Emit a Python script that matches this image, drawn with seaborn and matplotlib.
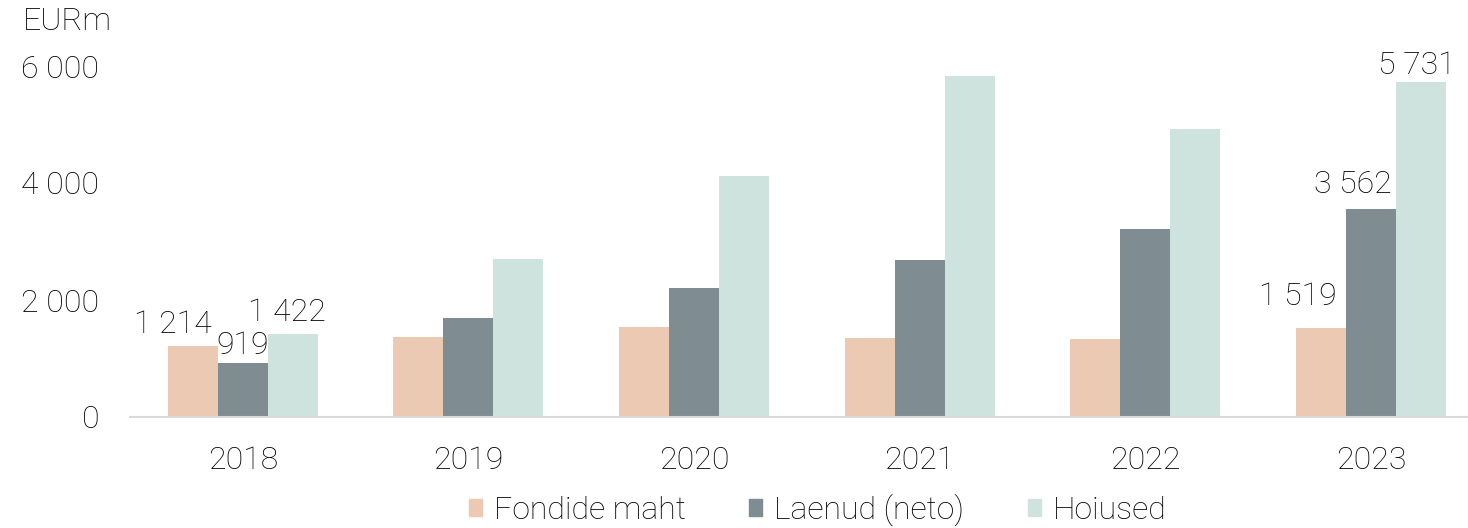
import matplotlib
matplotlib.use("Agg")
import matplotlib.pyplot as plt
import pandas as pd
import seaborn as sns

years = ["2018", "2019", "2020", "2021", "2022", "2023"]
series_names = ["Fondide maht", "Laenud (neto)", "Hoiused"]
fondide = [1214, 1370, 1540, 1350, 1333, 1519]
laenud = [919, 1690, 2205, 2683, 3213, 3562]
hoiused = [1422, 2700, 4120, 5828, 4922, 5731]
y_ticks = [0, 2000, 4000, 6000]
labelled_years = ["2018", "2023"]

colors = ["#ECC9B2", "#7F8C92", "#CFE3DE"]
# label offsets in points (dx, dy) per series, for the labelled years
label_offsets = {
    "2018": [(-14, 5), (0, 2), (-4, 5)],
    "2023": [(-17, 12), (-13, 7), (-3, 1)],
}


def fmt(v: float) -> str:
    return f"{int(round(v)):,}".replace(",", " ")


def main() -> None:
    sns.set_style("white")
    plt.rcParams["font.family"] = ["Roboto", "DejaVu Sans"]
    plt.rcParams["font.weight"] = "light"
    plt.rcParams["text.color"] = "black"
    plt.rcParams["xtick.color"] = "black"
    plt.rcParams["ytick.color"] = "black"
    fs = 23

    data = pd.DataFrame({
        "year": years * 3,
        "series": [s for s in series_names for _ in years],
        "value": fondide + laenud + hoiused,
    })

    fig = plt.figure(figsize=(14.68, 5.28), dpi=100)
    ax = fig.add_axes([130 / 1468, 111 / 528, 1 - 130 / 1468, 351 / 528])
    sns.barplot(data=data, x="year", y="value", hue="series", order=years,
                hue_order=series_names, palette=colors, width=0.665,
                saturation=1, linewidth=0, ax=ax, legend=False)

    ax.set_xlim(-0.5, 5.43)
    ax.set_ylim(0, 6000)
    ax.set_yticks(y_ticks)
    ax.set_yticklabels([fmt(t) for t in y_ticks])
    ax.set_xlabel("")
    ax.set_ylabel("")
    ax.tick_params(axis="y", length=0, pad=22, labelsize=fs)
    ax.tick_params(axis="x", length=0, pad=21, labelsize=fs)
    for side in ["top", "right", "left"]:
        ax.spines[side].set_visible(False)
    ax.spines["bottom"].set_color("#D9D9D9")
    ax.spines["bottom"].set_linewidth(1.5)

    for i, container in enumerate(ax.containers):
        for j, bar in enumerate(container):
            year = years[j]
            if year not in labelled_years:
                continue
            dx, dy = label_offsets[year][i]
            ax.annotate(fmt(bar.get_height()),
                        (bar.get_x() + bar.get_width() / 2, bar.get_height()),
                        xytext=(dx, dy), textcoords="offset points",
                        ha="center", va="bottom", fontsize=fs,
                        annotation_clip=False)

    handles = [plt.Rectangle((0, 0), 1, 1, color=c) for c in colors]
    fig.legend(handles, series_names, loc="center", bbox_to_anchor=(0.557, 0.034),
               ncol=3, frameon=False, fontsize=fs, handlelength=0.4, handleheight=0.4,
               handletextpad=0.37, columnspacing=2.0)

    fig.text(23 / 1468, 1 - 22 / 528, "EURm", fontsize=fs, va="center", ha="left")

    fig.savefig("out.png", dpi=100)
    plt.close(fig)


if __name__ == "__main__":
    main()
